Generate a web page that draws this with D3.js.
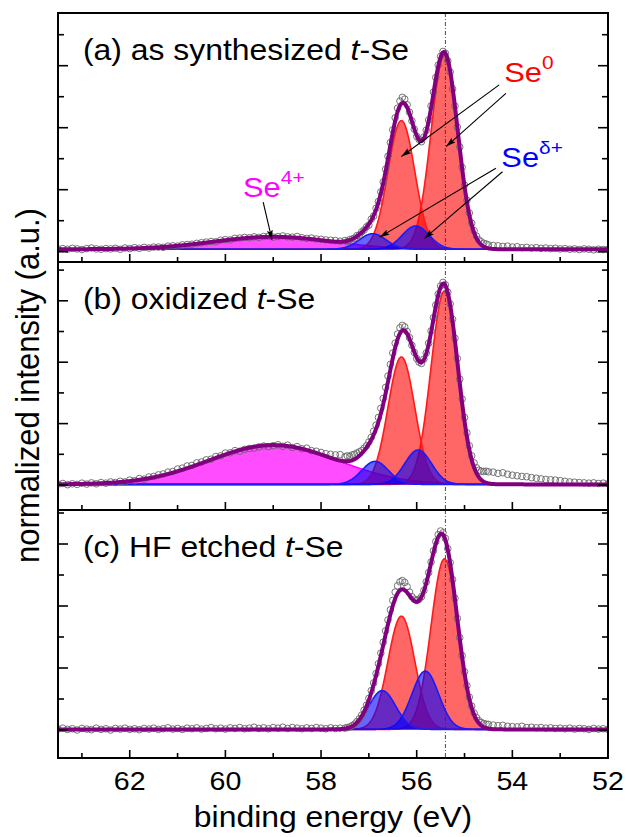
<!DOCTYPE html>
<html><head><meta charset="utf-8">
<script src="https://cdn.jsdelivr.net/npm/d3@7"></script>
<style>body{margin:0;background:#fff} svg{display:block} text{font-family:"Liberation Sans", Arial, sans-serif;fill:#000}</style>
</head><body><svg id="chart" width="626" height="837"></svg>
<script>
// ---------------- DATA ----------------
const panelLetters = ["(a)", "(b)", "(c)"];
const panelTitles = ["as synthesized", "oxidized", "HF etched"];
// measured binding energies (eV): 0.1 eV steps outside the peak region, 0.05 eV inside
const energyLeft = d3.range(635, 575, -1).map(v => v / 10);      // 63.5 .. 57.6
const energyPeak = d3.range(5750, 5445, -5).map(v => v / 100);   // 57.50 .. 54.50
const energyRight = d3.range(544, 519, -1).map(v => v / 10);     // 54.4 .. 52.0
const energies = energyLeft.concat(energyPeak, energyRight);

const countsA = [
  .09, .10, .08, .11, .09, .07, .10, .12, .09, .08, .10,
  .09, .11, .08, .12, .10, .13, .11, .14, .12, .15,
  .15, .14, .18, .19, .18, .22, .23, .24, .27, .29,
  .31, .33, .32, .37, .39, .38, .43, .44, .46, .45,
  .48, .46, .49, .50, .47, .49, .51, .48, .47, .49,
  .45, .43, .44, .41, .40, .38, .37, .36, .34,
  .36, .33, .39, .41, .44, .52, .54, .64, .70, .80,
  .86, 1.05, 1.15, 1.40, 1.62, 1.93, 2.25, 2.66, 3.08, 3.52,
  3.93, 4.32, 4.63, 4.86, 4.98, 4.92, 4.74, 4.50, 4.22, 3.95,
  3.72, 3.62, 3.55, 3.70, 3.92, 4.25, 4.70, 5.15, 5.62, 6.02,
  6.30, 6.46, 6.40, 6.15, 5.80, 5.25, 4.70, 4.02, 3.38, 2.72,
  2.15, 1.66, 1.25, .92, .68, .50, .38, .32, .27, .25,
  .22,
  .20, .19, .17, .18, .15, .16, .13, .14, .12, .13, .11, .12, .10, .11, .09, .10, .08, .09, .07, .09, .08, .06, .08, .07, .08
];
const countsB = [
  .03, .05, .01, .04, .02, .06, .03, .07, .04, .08,
  .06, .10, .08, .12, .10, .16, .14, .21, .19, .26,
  .28, .33, .36, .42, .44, .52, .55, .62, .64, .72,
  .75, .82, .84, .93, .95, 1.04, 1.05, 1.12, 1.10, 1.16,
  1.19, 1.20, 1.24, 1.27, 1.25, 1.28, 1.31, 1.26, 1.30, 1.22,
  1.25, 1.18, 1.20, 1.12, 1.10, 1.06, 1.02, 1.00, .98, .99,
  .92, .95, .93, .98, 1.00, 1.04, 1.08, 1.12, 1.20, 1.28,
  1.40, 1.55, 1.75, 1.95, 2.20, 2.50, 2.82, 3.18, 3.55, 3.93,
  4.30, 4.62, 4.92, 5.12, 5.20, 5.15, 5.00, 4.80, 4.55, 4.32,
  4.12, 4.00, 3.96, 4.10, 4.30, 4.62, 5.02, 5.45, 5.86, 6.22,
  6.48, 6.60, 6.52, 6.28, 5.90, 5.40, 4.78, 4.12, 3.45, 2.80,
  2.20, 1.70, 1.28, .95, .72, .56, .48, .45, .44, .45,
  .43,
  .42, .38, .40, .35, .32, .30, .28, .27, .24, .22, .20, .18, .17, .16, .14, .12, .10, .09, .08, .07, .06, .07, .05, .06, .04
];
const countsC = [
  .03, .06, .02, .04, .00, .05, .03, .01, .06, .02,
  .04, .00, .05, .03, .06, .02, .04, .01, .05, .03,
  .06, .02, .04, .07, .03, .05, .02, .06, .04, .07,
  .03, .05, .08, .04, .06, .03, .07, .05, .08, .04,
  .06, .09, .05, .07, .04, .08, .06, .09, .05, .08,
  .06, .04, .07, .05, .08, .06, .04, .07, .05, .06,
  .06, .08, .10, .14, .19, .27, .36, .48, .64, .80,
  1.02, 1.27, 1.52, 1.82, 2.14, 2.48, 2.83, 3.20, 3.55, 3.88,
  4.18, 4.45, 4.65, 4.78, 4.82, 4.76, 4.62, 4.45, 4.30, 4.22,
  4.18, 4.22, 4.30, 4.50, 4.78, 5.08, 5.42, 5.78, 6.08, 6.30,
  6.42, 6.36, 6.18, 5.85, 5.40, 4.85, 4.25, 3.60, 2.98, 2.40,
  1.88, 1.43, 1.06, .77, .55, .40, .30, .24, .21, .19,
  .18,
  .16, .14, .15, .12, .11, .10, .12, .08, .09, .07, .08, .06, .07, .05, .06, .04, .06, .03, .05, .04, .02, .05, .03, .04, .02
];

// fitted components: Se0 3d5/2, Se0 3d3/2, Se(delta+) 3d5/2, Se(delta+) 3d3/2, Se4+
const componentNames = ["Se0 3d5/2", "Se0 3d3/2", "Seδ+ 3d5/2", "Seδ+ 3d3/2", "Se4+"];
const componentKinds = ["Se0", "Se0", "Sed", "Sed", "Se4"];
const centersA = [55.42, 56.32, 56.02, 56.92, 59.0];
const heightsA = [6.25, 4.15, 0.75, 0.50, 0.40];
const sigmasA  = [0.28, 0.28, 0.28, 0.28, 1.25];
const backgroundA = 0.08;
const centersB = [55.42, 56.32, 55.97, 56.87, 59.0];
const heightsB = [6.30, 4.15, 1.12, 0.75, 1.28];
const sigmasB  = [0.28, 0.28, 0.28, 0.28, 1.35];
const backgroundB = 0.02;
const centersC = [55.42, 56.32, 55.82, 56.72, 59.0];
const heightsC = [5.50, 3.65, 1.88, 1.25, 0];
const sigmasC  = [0.28, 0.28, 0.28, 0.28, 1.35];
const backgroundC = 0.02;

const xMajorTicks = [62, 60, 58, 56, 54, 52];
const xMinorTicks = [63, 61, 59, 57, 55, 53];
const yTickValues = [0, 1, 2, 3, 4, 5, 6, 7];
const referenceEnergy = 55.4;

// annotations in panel (a): label position and arrow [start, end] in (eV, intensity)
const se0Label = [54.17, 5.47];
const se0Arrows = [[[54.275, 5.38], [56.32, 3.07]], [[54.135, 5.11], [55.385, 3.39]]];
const sedLabel = [54.23, 2.73];
const sedArrows = [[[54.344, 2.69], [56.775, 0.47]], [[54.206, 2.58], [55.838, 0.43]]];
const se4Label = [59.63, 1.76];
const se4Arrows = [[[59.21, 1.60], [59.025, 0.38]]];

// ---------------- LAYOUT / STYLE ----------------
const plotLeft = 58, plotRight = 608;
const panelTop = [13, 262, 510], panelBottom = [262, 510, 758];
const yDomains = [[-0.332, 7.70], [-0.814, 7.264], [-0.903, 7.097]];
const fills = {Se0: "rgba(255,0,0,0.6)", Sed: "rgba(0,0,255,0.6)", Se4: "rgba(255,0,255,0.7)"};
const strokes = {Se0: "#ff1a1a", Sed: "#1a1aff", Se4: "#ff00ff"};
const SX = 1.1; // horizontal text stretch of the original figure

const panels = [
  {counts: countsA, centers: centersA, heights: heightsA, sigmas: sigmasA, bg: backgroundA},
  {counts: countsB, centers: centersB, heights: heightsB, sigmas: sigmasB, bg: backgroundB},
  {counts: countsC, centers: centersC, heights: heightsC, sigmas: sigmasC, bg: backgroundC}
];
panels.forEach((p, i) => { if (p.counts.length !== energies.length) console.error("length mismatch", i, p.counts.length, energies.length); });

const svg = d3.select("#chart");
const defs = svg.append("defs");
defs.append("marker").attr("id", "arrow").attr("viewBox", "0 0 10 6")
  .attr("refX", 10).attr("refY", 3).attr("markerWidth", 10).attr("markerHeight", 6)
  .attr("markerUnits", "userSpaceOnUse").attr("orient", "auto")
  .append("path").attr("d", "M0,0 L10,3 L0,6 L2,3 Z").attr("fill", "#000");

const x = d3.scaleLinear().domain([63.5, 52]).range([plotLeft, plotRight]);
const fine = d3.range(6350, 5199, -1).map(v => v / 100);
const gauss = (E, c, h, s) => h * Math.exp(-((E - c) ** 2) / (2 * s * s));

function stretchedText(sel, px, py, sx) {
  return sel.attr("transform", `translate(${px},${py}) scale(${sx},1)`);
}

panels.forEach((p, i) => {
  const y = d3.scaleLinear().domain(yDomains[i]).range([panelBottom[i], panelTop[i]]);
  const clipId = "clip" + i;
  defs.append("clipPath").attr("id", clipId).append("rect")
    .attr("x", plotLeft).attr("y", panelTop[i]).attr("width", plotRight - plotLeft).attr("height", panelBottom[i] - panelTop[i]);
  const g = svg.append("g").attr("clip-path", `url(#${clipId})`);

  const order = [4, 0, 1, 2, 3];
  order.forEach(k => {
    if (p.heights[k] <= 0) return;
    const pts = fine.map(E => ({E, v: gauss(E, p.centers[k], p.heights[k], p.sigmas[k])}));
    const kind = componentKinds[k];
    g.append("path").datum(pts)
      .attr("d", d3.area().x(d => x(d.E)).y0(y(p.bg)).y1(d => y(p.bg + d.v)))
      .attr("fill", fills[kind]);
    g.append("path").datum(pts)
      .attr("d", d3.line().x(d => x(d.E)).y(d => y(p.bg + d.v)))
      .attr("fill", "none").attr("stroke", strokes[kind]).attr("stroke-width", 1.6);
  });

  // reference line
  g.append("line").attr("x1", x(referenceEnergy)).attr("x2", x(referenceEnergy))
    .attr("y1", panelTop[i]).attr("y2", panelBottom[i])
    .attr("stroke", "#333").attr("stroke-width", 0.9).attr("stroke-dasharray", "4,2,1,2");

  // measured points
  g.selectAll("circle.pt").data(energies.map((E, j) => [E, p.counts[j]])).enter()
    .append("circle").attr("class", "pt")
    .attr("cx", d => x(d[0])).attr("cy", d => y(d[1])).attr("r", 3.3)
    .attr("fill", "none").attr("stroke", "#666").attr("stroke-width", 0.9);

  // envelope
  const env = fine.map(E => ({E, v: p.bg + d3.sum(p.centers, (c, k) => gauss(E, c, p.heights[k], p.sigmas[k]))}));
  g.append("path").datum(env)
    .attr("d", d3.line().x(d => x(d.E)).y(d => y(d.v)))
    .attr("fill", "none").attr("stroke", "#800080").attr("stroke-width", 4).attr("stroke-linejoin", "round");

  // frame
  svg.append("rect").attr("x", plotLeft).attr("y", panelTop[i])
    .attr("width", plotRight - plotLeft).attr("height", panelBottom[i] - panelTop[i])
    .attr("fill", "none").attr("stroke", "#000").attr("stroke-width", 2);

  // x ticks (inward, bottom of each panel)
  const tk = svg.append("g").attr("stroke", "#000").attr("stroke-width", 1.6);
  xMajorTicks.forEach(t => tk.append("line").attr("x1", x(t)).attr("x2", x(t)).attr("y1", panelBottom[i]).attr("y2", panelBottom[i] - 8));
  xMinorTicks.forEach(t => tk.append("line").attr("x1", x(t)).attr("x2", x(t)).attr("y1", panelBottom[i]).attr("y2", panelBottom[i] - 5));
  // y ticks both sides
  yTickValues.forEach(t => {
    const yy = y(t);
    if (yy < panelTop[i] + 1 || yy > panelBottom[i] - 1) return;
    const len = t % 2 === 0 ? 10 : 6;
    tk.append("line").attr("x1", plotLeft).attr("x2", plotLeft + len).attr("y1", yy).attr("y2", yy);
    tk.append("line").attr("x1", plotRight).attr("x2", plotRight - len).attr("y1", yy).attr("y2", yy);
  });

  // panel label
  const lbl = svg.append("text").attr("font-size", 29);
  stretchedText(lbl, 83, panelTop[i] + 47, SX);
  lbl.append("tspan").text(panelLetters[i] + " " + panelTitles[i] + " ");
  lbl.append("tspan").attr("font-style", "italic").text("t");
  lbl.append("tspan").text("-Se");

  if (i === 0) {
    const ann = svg.append("g");
    function label(pos, sup, color) {
      const t = ann.append("text").attr("font-size", 28).attr("fill", color).style("fill", color);
      stretchedText(t, x(pos[0]), y(pos[1]), SX);
      t.append("tspan").text("Se");
      t.append("tspan").attr("font-size", 19).attr("dy", -13).text(sup);
    }
    function arrows(list) {
      list.forEach(a => ann.append("line")
        .attr("x1", x(a[0][0])).attr("y1", y(a[0][1])).attr("x2", x(a[1][0])).attr("y2", y(a[1][1]))
        .attr("stroke", "#000").attr("stroke-width", 1.1).attr("marker-end", "url(#arrow)"));
    }
    label(se0Label, "0", "#ff0000");
    label(sedLabel, "δ+", "#0000ff");
    label(se4Label, "4+", "#ff00ff");
    arrows(se0Arrows); arrows(sedArrows); arrows(se4Arrows);
  }
});

// x tick labels
xMajorTicks.forEach(t => {
  const tl = svg.append("text").attr("font-size", 26).attr("text-anchor", "middle").text(t);
  stretchedText(tl, x(t), 790, SX);
});
// axis titles
const xt = svg.append("text").attr("font-size", 29).attr("text-anchor", "middle").text("binding energy (eV)");
stretchedText(xt, (plotLeft + plotRight) / 2, 827, SX);
const yt = svg.append("text").attr("font-size", 31).attr("text-anchor", "middle").text("normalized intensity (a.u.)")
  .attr("transform", `translate(39,${(panelTop[0] + panelBottom[2]) / 2}) rotate(-90) scale(1,${SX})`);
</script></body></html>
